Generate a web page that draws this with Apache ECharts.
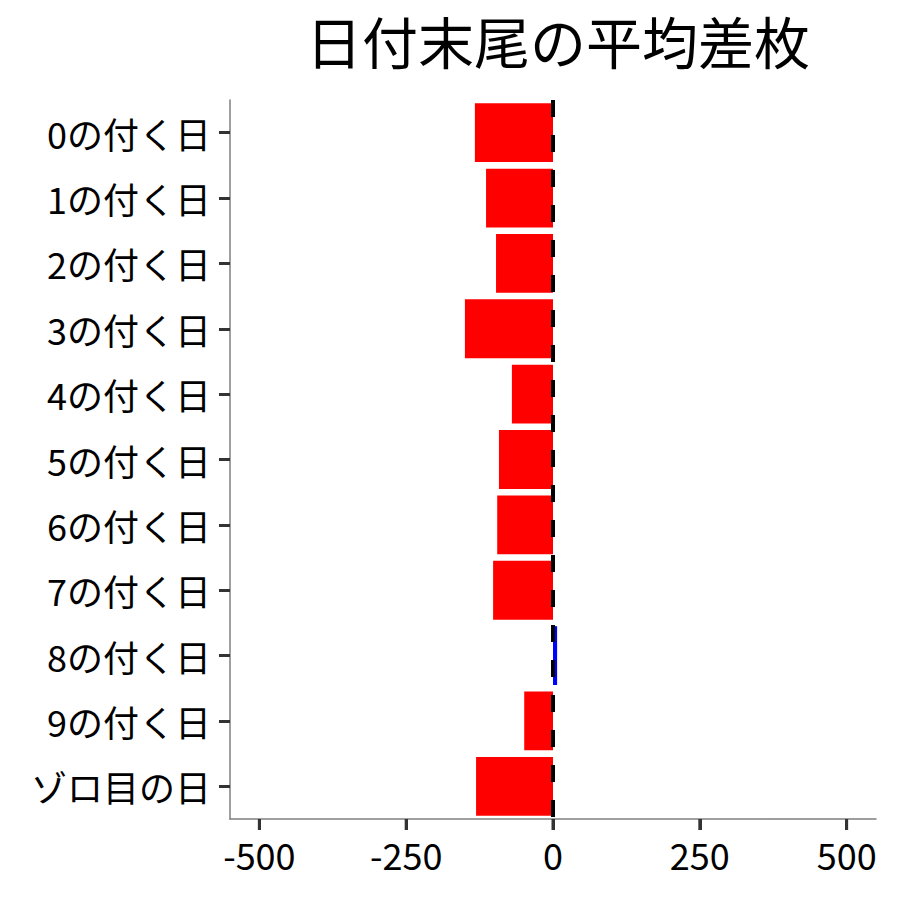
<!DOCTYPE html>
<html>
<head>
<meta charset="utf-8">
<script src="https://cdn.jsdelivr.net/npm/echarts@6/dist/echarts.min.js"></script>
<style>
  html, body { margin: 0; padding: 0; background: #fff; }
  #chart { width: 900px; height: 900px; }
</style>
</head>
<body>
<div id="chart"></div>
<script>
// 日付末尾ごとの平均差枚
var categories = ['0の付く日','1の付く日','2の付く日','3の付く日','4の付く日',
                  '5の付く日','6の付く日','7の付く日','8の付く日','9の付く日','ゾロ目の日'];
var diffValues = [-133, -114, -97, -150, -70, -92, -95, -102, 7, -49, -131];
var xTicks = [-500, -250, 0, 250, 500];
var xMin = -550, xMax = 550;       // 表示範囲 (目盛の外側に余白)

var fontFamily = '"Noto Sans CJK JP", "Noto Sans", sans-serif';

var chart = echarts.init(document.getElementById('chart'), null, { renderer: 'svg' });

// プロット領域
var gLeft = 230, gRight = 24, gTop = 100, gBottom = 81;
var plotW = 900 - gLeft - gRight;
var axisY = 900 - gBottom;

var barData = diffValues.map(function (v) {
  return {
    value: v,
    itemStyle: { color: v < 0 ? '#ff0000' : '#0000ff' }
  };
});

var option = {
  animation: false,
  backgroundColor: '#ffffff',
  title: {
    text: '日付末尾の平均差枚',
    left: 553,
    top: 6,
    textAlign: 'center',
    textStyle: {
      fontFamily: fontFamily,
      fontSize: 56,
      fontWeight: 'normal',
      color: '#000'
    }
  },
  grid: { left: gLeft, right: gRight, top: gTop, bottom: gBottom, containLabel: false },
  xAxis: {
    type: 'value',
    min: xMin,
    max: xMax,
    splitLine: { show: false },
    axisLine: { show: true, onZero: false, lineStyle: { color: '#7f7f7f', width: 1.5 } },
    axisTick: {
      show: true,
      length: 11,
      customValues: xTicks,
      lineStyle: { color: '#333333', width: 3 }
    },
    axisLabel: {
      customValues: xTicks,
      margin: 17,
      fontFamily: fontFamily,
      fontSize: 36,
      color: '#000'
    }
  },
  yAxis: {
    type: 'category',
    data: categories,
    inverse: true,
    axisLine: { show: true, onZero: false, lineStyle: { color: '#7f7f7f', width: 1.5 } },
    axisTick: {
      show: true,
      alignWithLabel: true,
      length: 11,
      lineStyle: { color: '#333333', width: 3 }
    },
    axisLabel: {
      margin: 19,
      fontFamily: fontFamily,
      fontSize: 36,
      color: '#000'
    },
    splitLine: { show: false }
  },
  series: [
    {
      name: '平均差枚',
      type: 'bar',
      data: barData,
      barCategoryGap: '10%',
      markLine: {
        silent: true,
        symbol: 'none',
        label: { show: false },
        lineStyle: {
          color: '#000',
          width: 4,
          type: [17, 18]
        },
        data: [{ xAxis: 0 }]
      }
    }
  ]
};

chart.setOption(option);

// x軸の目盛線 (軸のスケールから位置を取る)
function xPixel(v) {
  var px = chart.convertToPixel({ xAxisIndex: 0 }, v);
  if (Array.isArray(px)) px = px[0];
  if (!isFinite(px)) px = gLeft + (v - xMin) / (xMax - xMin) * plotW;
  return px;
}

var tickGraphics = xTicks.map(function (v) {
  var px = xPixel(v);
  return {
    type: 'rect',
    z: 100,
    shape: { x: px - 1.5, y: axisY, width: 3, height: 11 },
    style: { fill: '#333333' },
    silent: true
  };
});
chart.setOption({ graphic: { elements: tickGraphics } });
</script>
</body>
</html>
